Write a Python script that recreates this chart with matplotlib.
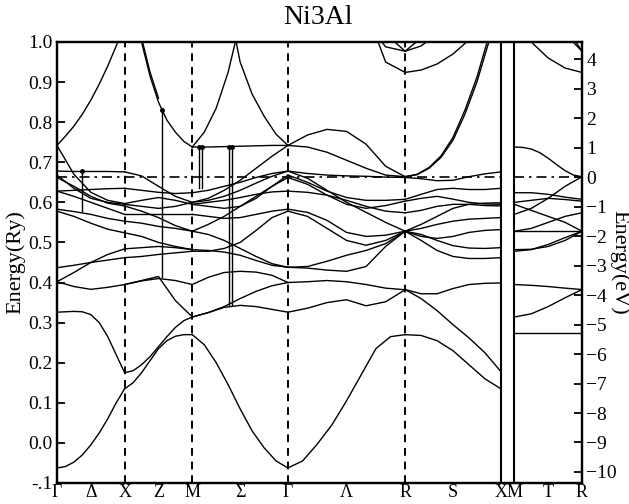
import matplotlib
matplotlib.use("Agg")
import matplotlib.pyplot as plt
import numpy as np

nan = np.nan
RY_EV = 13.6057
E_FERMI = 0.6625

# k path (units of 2pi/a): G-X-M-G-R-X | M-R
K_TICKS = [0.0, 0.25, 0.5, 0.75, 1.0, 1.354, 1.707, 2.140, 2.573, 2.927, 3.280, 3.380, 3.630, 3.880]
K_LABELS = ["Γ", "Δ", "X", "Z", "M", "Σ", "Γ", "Λ", "R", "S", "X", "M", "T", "R"]
K_DASHED = [0.5, 1.0, 1.707, 2.573]
K_BREAK = [3.280, 3.380]

GX = [
    [-0.0625, -0.059, -0.048, -0.03, -0.005, 0.025, 0.06, 0.1, 0.135],
    [0.326, 0.327, 0.328, 0.327, 0.32, 0.3, 0.265, 0.22, 0.175],
    [0.402, 0.39, 0.383, 0.388, 0.395],
    [0.402, 0.425, 0.45, 0.47, 0.484],
    [0.437, 0.443, 0.45, 0.456, 0.462],
    [0.578, 0.565, 0.548, 0.533, 0.524],
    [0.583, 0.577, 0.57, 0.56, 0.553],
    [0.628, 0.615, 0.6, 0.585, 0.57],
    [0.628, 0.63, 0.632, 0.634, 0.635],
    [0.662, 0.64, 0.615, 0.598, 0.591],
    [0.668, 0.635, 0.61, 0.60, 0.595],
    [0.678, 0.677, 0.677, 0.677, 0.676],
    [0.742, 0.67, 0.625, 0.605, 0.597],
    [0.742, 0.765, 0.79, 0.82, 0.855, 0.895, 0.94, 0.99, 1.045],
]
XM = [
    [0.135, 0.15, 0.175, 0.205, 0.235, 0.255, 0.266, 0.27, 0.27],
    [0.175, 0.18, 0.195, 0.215, 0.24, 0.265, 0.288, 0.305, 0.314],
    [0.395, 0.404, 0.41, 0.405, 0.395],
    [0.395, 0.405, 0.415, 0.355, 0.314],
    [0.462, 0.465, 0.47, 0.474, 0.478],
    [0.484, 0.487, 0.49, 0.487, 0.482],
    [0.524, 0.515, 0.5, 0.49, 0.482],
    [0.553, 0.548, 0.54, 0.535, 0.528],
    [0.57, 0.57, 0.57, 0.57, 0.57],
    [0.591, 0.578, 0.562, 0.542, 0.528],
    [0.597, 0.605, 0.612, 0.605, 0.595],
    [0.595, 0.59, 0.585, 0.59, 0.60],
    [0.635, 0.63, 0.625, 0.622, 0.624],
    [0.676, 0.666, 0.64, 0.615, 0.60],
    [1.2, 1.1, 1.0, 0.915, 0.85, 0.805, 0.775, 0.752, 0.738],
    [1.21, 1.11, 1.01, 0.925, 0.86, nan, nan, nan, nan],
]
MG = [
    [0.27, 0.245, 0.2, 0.145, 0.085, 0.03, -0.012, -0.045, -0.0625],
    [0.314, 0.325, 0.338, 0.343, 0.34, 0.333, 0.326],
    [0.314, 0.325, 0.34, 0.36, 0.378, 0.392, 0.40],
    [0.395, 0.413, 0.425, 0.428, 0.426, 0.418, 0.40],
    [0.528, 0.52, 0.505, 0.485, 0.465, 0.447, 0.438],
    [0.482, 0.48, 0.476, 0.468, 0.455, 0.443, 0.438],
    [0.478, 0.478, 0.485, 0.50, 0.53, 0.562, 0.578],
    [0.57, 0.565, 0.56, 0.562, 0.57, 0.578, 0.583],
    [0.595, 0.6, 0.605, 0.612, 0.62, 0.626, 0.628],
    [0.595, 0.59, 0.585, 0.59, 0.61, 0.64, 0.662],
    [0.60, 0.605, 0.615, 0.63, 0.648, 0.665, 0.678],
    [0.624, 0.63, 0.64, 0.65, 0.662, 0.672, 0.678],
    [0.528, 0.545, 0.565, 0.59, 0.615, 0.64, 0.668],
    [0.60, 0.61, 0.63, 0.655, 0.685, 0.715, 0.742],
    [0.738, 0.738, 0.739, 0.74, 0.741, 0.742, 0.742],
    [0.738, 0.775, 0.835, 0.925, 1.05, 1.2, 1.35, 1.5, 1.65],
    [1.65, 1.5, 1.35, 1.1, 0.95, 0.87, 0.815, 0.77, 0.742],
]
GR = [
    [-0.0625, -0.045, -0.003, 0.045, 0.105, 0.17, 0.235, 0.265, 0.27],
    [0.326, 0.336, 0.35, 0.357, 0.342, 0.352, 0.382],
    [0.40, 0.402, 0.405, 0.402, 0.395, 0.386, 0.382],
    [0.438, 0.436, 0.431, 0.428, 0.44, 0.49, 0.528],
    [0.438, 0.44, 0.453, 0.468, 0.48, 0.497, 0.528],
    [0.578, 0.565, 0.535, 0.505, 0.493, 0.505, 0.528],
    [0.583, 0.575, 0.555, 0.525, 0.515, 0.518, 0.528],
    [0.628, 0.625, 0.618, 0.605, 0.59, 0.578, 0.574],
    [0.662, 0.645, 0.618, 0.595, 0.585, 0.592, 0.603],
    [0.668, 0.65, 0.628, 0.612, 0.605, 0.605, 0.6075],
    [0.678, 0.66, 0.63, 0.6, 0.575, 0.55, 0.528],
    [0.678, 0.672, 0.668, 0.666, 0.665, 0.663, 0.662],
    [0.742, 0.738, 0.725, 0.705, 0.685, 0.668, 0.664],
    [0.742, 0.768, 0.782, 0.777, 0.745, 0.69, 0.664],
    [nan, nan, nan, nan, 1.05, 0.988, 0.977],
    [nan, nan, nan, nan, 1.08, 0.95, 0.924],
    [nan, nan, nan, nan, nan, 1.02, 0.977],
]
RX = [
    [0.27, 0.268, 0.255, 0.23, 0.195, 0.16, 0.135],
    [0.3825, 0.36, 0.33, 0.295, 0.262, 0.225, 0.178],
    [0.3825, 0.372, 0.372, 0.385, 0.395, 0.398, 0.399],
    [0.528, 0.505, 0.48, 0.465, 0.46, 0.46, 0.462],
    [0.528, 0.52, 0.505, 0.492, 0.486, 0.485, 0.487],
    [0.528, 0.515, 0.51, 0.515, 0.525, 0.53, 0.532],
    [0.528, 0.535, 0.545, 0.553, 0.558, 0.56, 0.562],
    [0.574, 0.58, 0.59, 0.595, 0.595, 0.592, 0.591],
    [0.603, 0.61, 0.615, 0.608, 0.6, 0.596, 0.595],
    [0.6075, 0.62, 0.632, 0.635, 0.632, 0.632, 0.635],
    [0.528, 0.545, 0.565, 0.585, 0.595, 0.598, 0.599],
    [0.662, 0.659, 0.654, 0.655, 0.664, 0.671, 0.676],
    [0.664, 0.669, 0.685, 0.712, 0.755, 0.82, 0.9, 1.0, 1.12],
    [0.664, 0.67, 0.687, 0.716, 0.762, 0.83, 0.912, 1.015, 1.135],
    [0.924, 0.93, 0.945, 0.97, 1.005, 1.05, 1.1],
    [0.977, 0.99, 1.02, 1.06, 1.1, 1.15, 1.2],
    [0.977, 1.01, 1.05, 1.1, 1.15, 1.2, 1.25],
]
MR = [
    [0.273, 0.273, 0.273, 0.273, 0.273],
    [0.314, 0.322, 0.34, 0.362, 0.3825],
    [0.395, 0.393, 0.39, 0.386, 0.3825],
    [0.478, 0.482, 0.495, 0.512, 0.528],
    [0.482, 0.483, 0.49, 0.505, 0.528],
    [0.528, 0.528, 0.528, 0.528, 0.528],
    [0.528, 0.535, 0.55, 0.565, 0.574],
    [0.595, 0.58, 0.565, 0.55, 0.528],
    [0.57, 0.585, 0.61, 0.64, 0.664],
    [0.60, 0.605, 0.61, 0.607, 0.603],
    [0.624, 0.624, 0.62, 0.613, 0.6075],
    [0.738, 0.737, 0.733, 0.724, 0.71, 0.694, 0.679, 0.668, 0.664],
    [1.3, 1.0, 0.96, 0.935, 0.924],
    [nan, nan, 1.1, 1.02, 0.977],
    [nan, nan, nan, 1.04, 0.977],
]
SEGMENTS = [
    (0.0, 0.5, GX),
    (0.5, 1.0, XM),
    (1.0, 1.707, MG),
    (1.707, 2.573, GR),
    (2.573, 3.280, RX),
    (3.380, 3.880, MR),
]
# vertical connector lines left by the band-sorting program: (k, E_low, E_high)
JUMPS = [
    (0.187, 0.578, 0.677),
    (0.776, 0.415, 0.83),
    (1.051, 0.635, 0.738),
    (1.073, 0.635, 0.738),
    (1.270, 0.345, 0.738),
    (1.292, 0.345, 0.738),
]

RY_TICKS = [1.0, 0.9, 0.8, 0.7, 0.6, 0.5, 0.4, 0.3, 0.2, 0.1, 0.0, -0.1]
RY_LABELS = ["1.0", "0.9", "0.8", "0.7", "0.6", "0.5", "0.4", "0.3", "0.2", "0.1", "0.0", "-.1"]
EV_TICKS = list(range(-10, 5))

plt.rcParams["font.family"] = ["Liberation Serif", "DejaVu Serif"]

fig = plt.figure(figsize=(6.29, 5.04), dpi=100)
ax = fig.add_axes([0.0906, 0.0417, 0.8347, 0.875])

for k0, k1, bands in SEGMENTS:
    for band in bands:
        k = np.linspace(k0, k1, len(band))
        ax.plot(k, band, color="black", lw=1.0)

for k, e0, e1 in JUMPS:
    ax.plot([k, k], [e0, e1], color="black", lw=1.0)
    ax.plot([k], [e1], "o", color="black", ms=2.5)

for k in K_DASHED:
    ax.axvline(k, color="black", lw=1.4, ls=(0, (4, 3)))
for k in K_BREAK:
    ax.axvline(k, color="black", lw=1.5)

ax.plot([0.0, K_BREAK[0]], [E_FERMI, E_FERMI], color="black", lw=1.2,
        ls=(0, (6, 3, 1.5, 3)))
ax.plot([K_BREAK[1], K_TICKS[-1]], [E_FERMI, E_FERMI], color="black", lw=1.2,
        ls=(0, (6, 3, 1.5, 3)))

ax.set_xlim(0.0, K_TICKS[-1])
ax.set_ylim(-0.1, 1.0)
ax.set_xticks(K_TICKS)
ax.set_xticklabels(K_LABELS, fontsize=13)
ax.set_yticks(RY_TICKS)
ax.set_yticklabels(RY_LABELS, fontsize=14)
ax.tick_params(axis="x", length=0, pad=1)
ax.tick_params(axis="y", direction="in", length=6, width=1.3, pad=3)
for sp in ax.spines.values():
    sp.set_linewidth(1.6)

ax2 = ax.twinx()
ax2.set_ylim((-0.1 - E_FERMI) * RY_EV, (1.0 - E_FERMI) * RY_EV)
ax2.set_yticks(EV_TICKS)
ax2.set_yticklabels([str(t).replace("-", "\u2212") for t in EV_TICKS], fontsize=14)
ax2.tick_params(axis="y", direction="in", length=6, width=1.3, pad=3)
for sp in ax2.spines.values():
    sp.set_linewidth(1.6)

fig.text(0.506, 0.966, "Ni3Al", ha="center", va="center", fontsize=20)
fig.text(0.024, 0.48, "Energy(Ry)", ha="center", va="center", rotation=90,
         fontsize=16)
fig.text(0.985, 0.48, "Energy(eV)", ha="center", va="center", rotation=270,
         fontsize=16)

fig.savefig("out.png", dpi=100)
